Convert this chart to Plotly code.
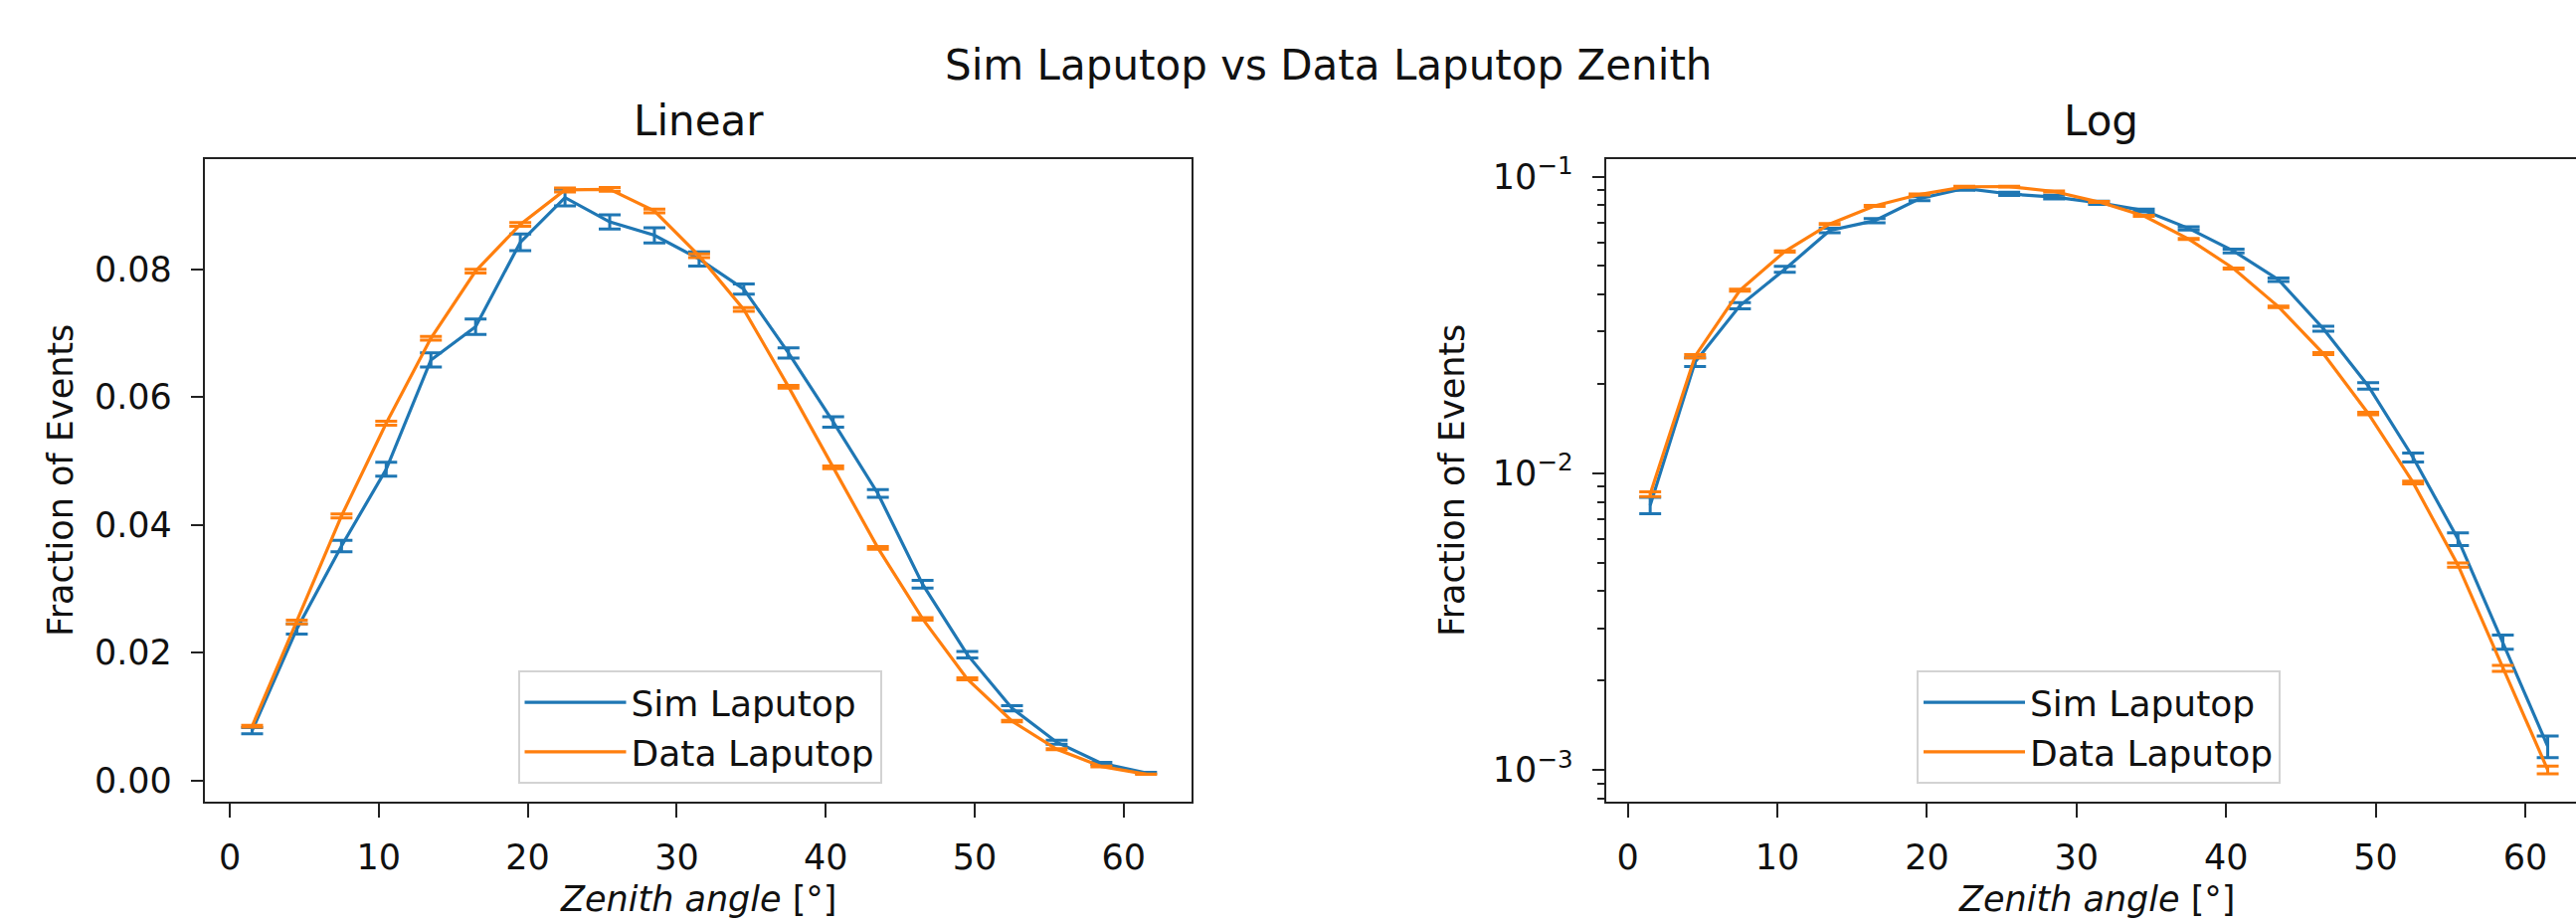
import plotly.graph_objects as go

# ---- data ----
zenith_deg = [1.5, 4.5, 7.5, 10.5, 13.5, 16.5, 19.5, 22.5, 25.5, 28.5, 31.5,
              34.5, 37.5, 40.5, 43.5, 46.5, 49.5, 52.5, 55.5, 58.5, 61.5]
sim_frac = [0.0078, 0.0237, 0.0367, 0.0487, 0.0658, 0.0710, 0.0842, 0.0912,
            0.0874, 0.0853, 0.0816, 0.0769, 0.0669, 0.0561, 0.0449, 0.0307,
            0.0197, 0.0113, 0.0060, 0.0027, 0.0012]
sim_err = [0.0005, 0.0008, 0.0009, 0.0011, 0.0011, 0.0012, 0.0013, 0.0013,
           0.0011, 0.0012, 0.0011, 0.0008, 0.0008, 0.0008, 0.0006, 0.0006,
           0.0005, 0.0004, 0.0003, 0.00015, 0.0001]
data_frac = [0.0085, 0.0248, 0.0414, 0.0559, 0.0692, 0.0797, 0.0870, 0.0924,
             0.0925, 0.0891, 0.0821, 0.0737, 0.0616, 0.0490, 0.0364, 0.0253,
             0.0159, 0.0093, 0.0049, 0.0022, 0.0010]
data_err = [0.00015, 0.0003, 0.0003, 0.0003, 0.0003, 0.0003, 0.0003, 0.0003,
            0.0003, 0.0003, 0.0003, 0.0003, 0.0002, 0.0002, 0.0002, 0.0002,
            0.00015, 0.0001, 0.00008, 0.00005, 0.00003]

series_names = ["Sim Laputop", "Data Laputop"]
x_ticks = [0, 10, 20, 30, 40, 50, 60]
lin_y_ticks = [0.00, 0.02, 0.04, 0.06, 0.08]
log_y_ticks = [0.001, 0.01, 0.1]
log_y_ticktext = ["10<sup>−3</sup>", "10<sup>−2</sup>", "10<sup>−1</sup>"]
log_minor = [0.0008, 0.0009] + [k * 0.001 for k in range(2, 10)] + [k * 0.01 for k in range(2, 10)]

BLUE = "#1f77b4"
ORANGE = "#ff7f0e"
FONT = "DejaVu Sans"
W, H = 2590, 929

fig = go.Figure()

for xa, ya, leg in [("x", "y", "legend"), ("x2", "y2", "legend2")]:
    for name, y, err, col in [(series_names[0], sim_frac, sim_err, BLUE),
                              (series_names[1], data_frac, data_err, ORANGE)]:
        fig.add_trace(go.Scatter(
            x=zenith_deg, y=y, name=name, mode="lines",
            line=dict(color=col, width=3.2),
            error_y=dict(type="data", array=err, visible=True, color=col,
                         thickness=3, width=11),
            xaxis=xa, yaxis=ya, legend=leg, showlegend=True,
        ))

def px_x(p):
    return p / W

def px_y(p):
    return 1 - p / H

axis_common = dict(
    showline=True, linecolor="#222222", linewidth=2.2,
    ticks="outside", tickcolor="#222222", tickwidth=2,
    showgrid=False, zeroline=False,
    tickfont=dict(family=FONT, size=35, color="#111111"),
)

legend_common = dict(
    xanchor="center", y=px_y(787), yanchor="bottom",
    bgcolor="rgba(255,255,255,0.8)", bordercolor="#d3d3d3",
    borderwidth=2, font=dict(family=FONT, size=36, color="#111111"),
    itemwidth=102, tracegroupgap=0,
)

fig.update_layout(
    width=W, height=H, autosize=False,
    margin=dict(l=0, r=0, t=0, b=0),
    paper_bgcolor="white", plot_bgcolor="white",
    font=dict(family=FONT, color="#111111"),
    xaxis=dict(domain=[px_x(206), px_x(1198)], range=[-1.67, 64.55],
               tickvals=x_ticks, ticklen=14, mirror=True, anchor="y",
               ticklabelstandoff=10, **axis_common),
    yaxis=dict(domain=[px_y(805), px_y(153.5)], range=[-0.003315, 0.09719],
               tickvals=lin_y_ticks, tickformat=".2f", ticklen=12, mirror=True,
               anchor="x", ticklabelstandoff=12, **axis_common),
    xaxis2=dict(domain=[px_x(1614.6), 1.0], range=[-1.463, 63.39],
                tickvals=x_ticks, ticklen=14, mirror=True, anchor="y2",
                ticklabelstandoff=10, **axis_common),
    yaxis2=dict(domain=[px_y(805), px_y(153.4)], type="log",
                range=[-3.1074, -0.9415], tickvals=log_y_ticks,
                ticktext=log_y_ticktext, ticklen=12, mirror=False, anchor="x2",
                ticklabelstandoff=12,
                minor=dict(tickvals=log_minor, ticks="outside", ticklen=7,
                           tickwidth=1.6, tickcolor="#222222", showgrid=False),
                **axis_common),
    legend=dict(x=px_x(703.5), **legend_common),
    legend2=dict(x=px_x(2110), **legend_common),
)

ann_font = dict(family=FONT, size=35, color="#111111")
title_font = dict(family=FONT, size=42, color="#111111")
annotations = [
    dict(text="Sim Laputop vs Data Laputop Zenith", x=px_x(1335), y=px_y(58), font=title_font),
    dict(text="Linear", x=px_x(702), y=px_y(114.5), font=title_font),
    dict(text="Log", x=px_x(2112), y=px_y(114.5), font=title_font),
    dict(text="<i>Zenith angle</i> [°]", x=px_x(702), y=px_y(904), font=ann_font),
    dict(text="<i>Zenith angle</i> [°]", x=px_x(2108), y=px_y(904), font=ann_font),
    dict(text="Fraction of Events", x=px_x(61), y=px_y(479), font=ann_font, textangle=-90),
    dict(text="Fraction of Events", x=px_x(1460), y=px_y(479), font=ann_font, textangle=-90),
]
for a in annotations:
    fig.add_annotation(xref="paper", yref="paper", showarrow=False,
                       xanchor="center", yanchor="middle", **a)

fig.write_html("out.html")
